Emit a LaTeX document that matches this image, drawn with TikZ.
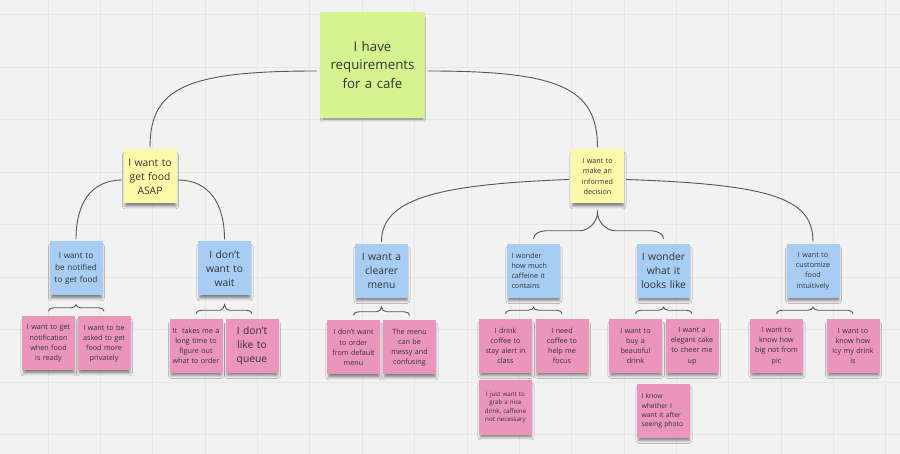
\documentclass[tikz,border=0pt]{standalone}
\usepackage{fontspec}
\setmainfont{Open Sans}
\usetikzlibrary{calc,shadows.blur}
\definecolor{bg}{HTML}{F2F2F2}
\definecolor{gridc}{HTML}{E7E7E7}
\definecolor{greenn}{HTML}{D5F48F}
\definecolor{yelln}{HTML}{FEF9A8}
\definecolor{bluen}{HTML}{A8CDF4}
\definecolor{pinkn}{HTML}{EB95BC}
\definecolor{txt}{HTML}{333333}
\definecolor{linec}{HTML}{555555}
\tikzset{
  note/.style={minimum width=53pt, minimum height=54pt, inner sep=0pt, text=txt,
    align=center, text width=47pt,
    blur shadow={shadow xshift=0.5pt, shadow yshift=-4pt, shadow blur radius=3pt,
      shadow opacity=50, shadow scale=0.95}},
  gnote/.style={note, fill=greenn},
  ynote/.style={note, fill=yelln},
  bnote/.style={note, fill=bluen},
  pnote/.style={note, fill=pinkn},
  ftop/.style={font=\fontsize{13.3}{18.5}\selectfont},
  fbig/.style={font=\fontsize{10.3}{14}\selectfont},
  fmid/.style={font=\fontsize{8.2}{11.7}\selectfont},
  fsm/.style={font=\fontsize{7.2}{10.2}\selectfont},
  fxs/.style={font=\fontsize{6.8}{9.4}\selectfont},
  fxxs/.style={font=\fontsize{6.2}{8.6}\selectfont},
  link/.style={draw=linec, line width=0.9pt},
  gridline/.style={draw=gridc, line width=0.7pt}
}
% brace: #1 left child, #2 right child, #3 parent, #4 end curl width, #5 end curl height, #6 tip curl width
\newcommand\cbrace[6]{%
  \draw[link] let \p1=(#1.north), \p2=(#2.north), \p3=(#3.south) in
    (\x1,{\y1+5pt}) .. controls (\x1,{\y1+5pt+0.55*#5}) and ({\x1+0.45*#4},{\y1+5pt+#5}) .. ({\x1+#4},{\y1+5pt+#5})
    -- ({\x3-#6},{\y1+5pt+#5}) .. controls ({\x3-0.45*#6},{\y1+5pt+#5}) and (\x3,{\y1+5pt+#5+0.55*((\y3-9pt)-(\y1+5pt+#5))}) .. (\x3,{\y3-9pt})
    .. controls (\x3,{\y1+5pt+#5+0.55*((\y3-9pt)-(\y1+5pt+#5))}) and ({\x3+0.45*#6},{\y1+5pt+#5}) .. ({\x3+#6},{\y1+5pt+#5})
    -- ({\x2-#4},{\y1+5pt+#5}) .. controls ({\x2-0.45*#4},{\y1+5pt+#5}) and (\x2,{\y1+5pt+0.55*#5}) .. (\x2,{\y1+5pt});}
\begin{document}
\begin{tikzpicture}[x=1pt, y=-1pt]
  \fill[bg] (0,0) rectangle (900,454);
  \useasboundingbox (0,0) rectangle (900,454);
  \foreach \i in {0,...,17} \draw[gridline] ({-4.36+52.36*\i},0) -- ++(0,454);
  \foreach \j in {0,...,8} \draw[gridline] (0,{14.5+52.5*\j}) -- ++(900,0);

  % level 0
  \node[gnote, ftop, minimum width=105pt, minimum height=106pt, text width=95pt] (top) at (372.5,65)
    {I have\\requirements\\for a cafe};
  % level 1
  \node[ynote, fbig] (asap) at (150,176.5) {I want to\\get food\\ASAP};
  \node[ynote, fsm] (dec) at (597.5,176.5) {I want to\\make an\\informed\\decision};
  % level 2
  \node[bnote, fmid] (notif) at (76,268.5) {I want to\\be notified\\to get food};
  \node[bnote, fbig] (wait) at (224.5,268.5) {I don't\\want to\\wait};
  \node[bnote, fbig] (menu) at (381.5,271) {I want a\\clearer\\menu};
  \node[bnote, fsm, align=left, text width=44pt] (caff) at (533.5,271) {I wonder\\how much\\caffeine it\\contains};
  \node[bnote, fbig] (looks) at (663.5,271) {I wonder\\what it\\looks like};
  \node[bnote, fsm] (cust) at (813,271) {I want to\\customize\\food\\intuitively};
  % level 3
  \node[pnote, fsm] (p1) at (48.5,343.5) {I want to get\\notification\\when food\\is ready};
  \node[pnote, fsm] (p2) at (104,343.5) {I want to be\\asked to get\\food more\\privately};
  \node[pnote, fsm] (p3) at (196,346) {It~ takes me a\\long time to\\figure out\\what to order};
  \node[pnote, fbig] (p4) at (252,346) {I don't\\like to\\queue};
  \node[pnote, fsm] (p5) at (353.5,347.5) {I don't want\\to order\\from default\\menu};
  \node[pnote, fsm] (p6) at (409.5,347.5) {The menu\\can be\\messy and\\confusing};
  \node[pnote, fsm] (p7) at (505.5,346) {I drink\\coffee to\\stay alert in\\class};
  \node[pnote, fsm] (p8) at (562,346) {I need\\coffee to\\help me\\focus};
  \node[pnote, fxxs] (p9) at (505.5,407.5) {I just want to\\grab a nice\\drink, caffeine\\not necessary};
  \node[pnote, fsm] (p10) at (635.5,346) {I want to\\buy a\\beautiful\\drink};
  \node[pnote, fsm] (p11) at (692,346) {I want a\\elegant cake\\to cheer me\\up};
  \node[pnote, fxs, align=left, text width=44pt] (p12) at (663.5,411) {I know\\whether I\\want it after\\seeing photo};
  \node[pnote, fsm] (p13) at (776.5,346) {I want to\\know how\\big not from\\pic};
  \node[pnote, fsm] (p14) at (853,346) {I want to\\know how\\icy my drink\\is};

  % connectors
  \draw[link] ([xshift=-3pt,yshift=-6pt]top.west) .. controls +(-130,0) and +(0,-60) .. ([yshift=2pt]asap.north);
  \draw[link] ([xshift=3pt,yshift=-6pt]top.east) .. controls +(130,0) and +(0,-60) .. ([yshift=2pt]dec.north);
  \draw[link] ([xshift=-1pt,yshift=-3.5pt]asap.west) .. controls +(-32,0) and +(0,-35) .. ([yshift=2pt]notif.north);
  \draw[link] ([xshift=1pt,yshift=-3.5pt]asap.east) .. controls +(32,0) and +(0,-35) .. ([yshift=2pt]wait.north);
  \draw[link] ([xshift=-2pt,yshift=-3pt]dec.west) .. controls +(-135,5) and +(0,-42) .. ([yshift=2pt]menu.north);
  \draw[link] ([xshift=2pt,yshift=-3pt]dec.east) .. controls +(150,5) and +(0,-42) .. ([yshift=2pt]cust.north);
  \cbrace{caff}{looks}{dec}{12pt}{8pt}{18pt}
  \cbrace{p1}{p2}{notif}{5pt}{3.5pt}{5pt}
  \cbrace{p3}{p4}{wait}{5pt}{3.5pt}{5pt}
  \cbrace{p5}{p6}{menu}{5pt}{3.5pt}{5pt}
  \cbrace{p7}{p8}{caff}{5pt}{3.5pt}{5pt}
  \cbrace{p10}{p11}{looks}{5pt}{3.5pt}{5pt}
  \cbrace{p13}{p14}{cust}{5pt}{3.5pt}{5pt}
\end{tikzpicture}
\end{document}
